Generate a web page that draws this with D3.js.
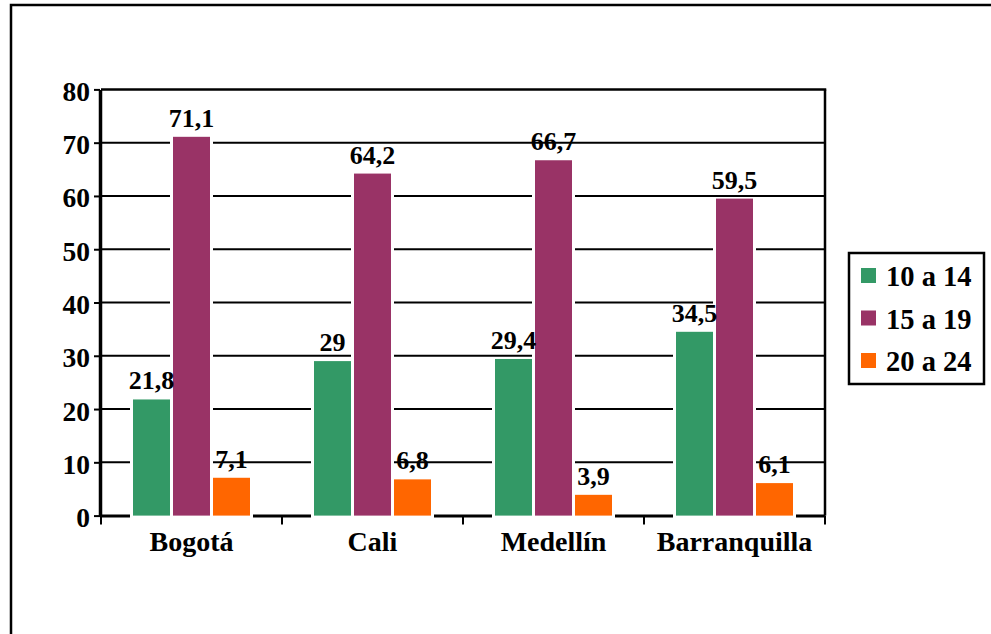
<!DOCTYPE html>
<html>
<head>
<meta charset="utf-8">
<script src="https://cdn.jsdelivr.net/npm/d3@7"></script>
<style>
  html, body { margin: 0; padding: 0; background: #fff; }
  svg { display: block; }
</style>
</head>
<body>
<svg id="chart" width="991" height="634"></svg>
<script>
// ---- data ----
const categories = ["Bogotá", "Cali", "Medellín", "Barranquilla"];
const seriesNames = ["10 a 14", "15 a 19", "20 a 24"];
const values10a14 = [21.8, 29, 29.4, 34.5];
const values15a19 = [71.1, 64.2, 66.7, 59.5];
const values20a24 = [7.1, 6.8, 3.9, 6.1];
const yTickValues = [0, 10, 20, 30, 40, 50, 60, 70, 80];
const seriesColors = ["#339966", "#993366", "#FF6600"];

const FONT = "'Liberation Serif', 'Times New Roman', Times, 'DejaVu Serif', serif";

const seriesValues = [values10a14, values15a19, values20a24];
const rows = [];
categories.forEach((c, ci) => {
  seriesNames.forEach((s, si) => rows.push({ cat: c, series: s, si, value: seriesValues[si][ci] }));
});

// ---- layout ----
const svg = d3.select("#chart");
const plot = { left: 101, right: 825, top: 89.4, bottom: 515.6 };

const x = d3.scaleBand().domain(categories).range([plot.left, plot.right]).padding(0);
const groupW = 117;
const xs = d3.scaleBand().domain(seriesNames)
  .range([(x.bandwidth() - groupW) / 2, (x.bandwidth() + groupW) / 2])
  .paddingInner(0.075).paddingOuter(0);
const y = d3.scaleLinear().domain([0, 80]).range([plot.bottom, plot.top]);
const color = d3.scaleOrdinal().domain(seriesNames).range(seriesColors);
const fmt = v => String(v).replace(".", ",");

// outer border
svg.append("rect").attr("x", 11).attr("y", 5).attr("width", 1000).attr("height", 700)
  .attr("fill", "none").attr("stroke", "#000").attr("stroke-width", 2.5);

// gridlines
svg.append("g").selectAll("line").data(yTickValues.filter(v => v > 0 && v < 80)).join("line")
  .attr("x1", plot.left).attr("x2", plot.right)
  .attr("y1", d => y(d)).attr("y2", d => y(d))
  .attr("stroke", "#000").attr("stroke-width", 2);

// frame top & right
svg.append("line").attr("x1", plot.left).attr("x2", plot.right + 1.25)
  .attr("y1", y(80)).attr("y2", y(80)).attr("stroke", "#000").attr("stroke-width", 2.5);
svg.append("line").attr("x1", plot.right).attr("x2", plot.right)
  .attr("y1", y(80)).attr("y2", y(0)).attr("stroke", "#000").attr("stroke-width", 2.5);

// bottom axis line
svg.append("line").attr("x1", plot.left - 1).attr("x2", plot.right)
  .attr("y1", y(0) + 0.5).attr("y2", y(0) + 0.5).attr("stroke", "#000").attr("stroke-width", 3);

// y axis
const yAxis = svg.append("g").attr("transform", `translate(${plot.left - 1},0)`)
  .call(d3.axisLeft(y).tickValues(yTickValues).tickSize(6).tickSizeOuter(0).tickPadding(4));
yAxis.attr("font-family", FONT).attr("font-weight", "bold").attr("font-size", 27.5);
yAxis.select(".domain").attr("stroke", "#000").attr("stroke-width", 3.5);
yAxis.selectAll(".tick line").attr("stroke", "#000").attr("stroke-width", 2);
yAxis.selectAll(".tick text").attr("fill", "#000").attr("dy", "0.4em");

// bar halos (white outlines)
const halo = 3;
svg.append("g").selectAll("rect").data(rows).join("rect")
  .attr("x", d => x(d.cat) + xs(d.series) - halo)
  .attr("y", d => y(d.value) - 1)
  .attr("width", xs.bandwidth() + 2 * halo)
  .attr("height", d => y(0) - y(d.value) + 4)
  .attr("fill", "#fff");

// bars
svg.append("g").selectAll("rect").data(rows).join("rect")
  .attr("x", d => x(d.cat) + xs(d.series))
  .attr("y", d => y(d.value))
  .attr("width", xs.bandwidth())
  .attr("height", d => y(0) - y(d.value))
  .attr("fill", d => color(d.series));

// bottom axis: category labels + boundary ticks
const xAxis = svg.append("g").attr("transform", `translate(0,${y(0)})`)
  .call(d3.axisBottom(x).tickSize(0).tickPadding(30));
xAxis.attr("font-family", FONT).attr("font-weight", "bold").attr("font-size", 28);
xAxis.select(".domain").remove();
xAxis.selectAll(".tick text").attr("fill", "#000").attr("dy", "0.2em");

const bounds = categories.map(c => x(c)).concat([x(categories[categories.length - 1]) + x.bandwidth()]);
svg.append("g").selectAll("line").data(bounds).join("line")
  .attr("x1", d => d).attr("x2", d => d)
  .attr("y1", y(0)).attr("y2", y(0) + 9)
  .attr("stroke", "#000").attr("stroke-width", 2);

// value labels
svg.append("g").attr("font-family", FONT).attr("font-weight", "bold").attr("font-size", 26)
  .selectAll("text").data(rows).join("text")
  .attr("x", d => x(d.cat) + xs(d.series) + xs.bandwidth() / 2)
  .attr("y", d => y(d.value) - 10)
  .attr("text-anchor", "middle")
  .attr("fill", "#000")
  .text(d => fmt(d.value));

// legend
const lg = svg.append("g").attr("transform", "translate(849,253)");
lg.append("rect").attr("width", 135).attr("height", 131)
  .attr("fill", "#fff").attr("stroke", "#000").attr("stroke-width", 2.5);
const items = lg.selectAll("g").data(seriesNames).join("g")
  .attr("transform", (d, i) => `translate(0,${i * 42.5})`);
items.append("rect").attr("x", 12).attr("y", 15).attr("width", 15).attr("height", 15)
  .attr("fill", d => color(d));
items.append("text").attr("x", 37).attr("y", 33)
  .attr("font-family", FONT).attr("font-weight", "bold").attr("font-size", 28.5)
  .attr("fill", "#000").text(d => d);
</script>
</body>
</html>
